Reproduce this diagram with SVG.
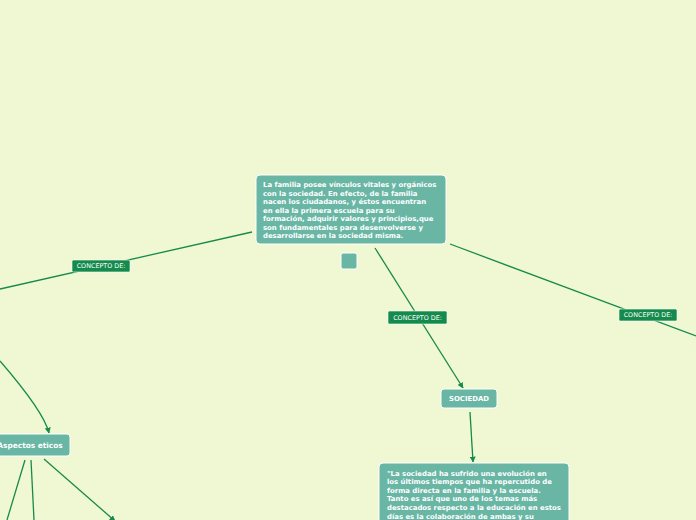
<svg xmlns="http://www.w3.org/2000/svg" width="696" height="520" viewBox="0 0 696 520">
<defs>
<style>
.node{fill:#69b6a5;stroke:#ffffff;stroke-width:1}
.t{font-family:"DejaVu Sans",Verdana,sans-serif;font-weight:bold;font-size:6.9px;fill:#ffffff}
.lbl{fill:#148a4c;stroke:#ffffff;stroke-width:0.6}
.lt{font-family:"DejaVu Sans",Verdana,sans-serif;font-size:6.4px;fill:#ffffff}
.c{fill:none;stroke:#178a4b;stroke-width:1.3}
</style>
<marker id="ah" viewBox="0 0 10 10" refX="9" refY="5" markerWidth="6" markerHeight="6" orient="auto" markerUnits="userSpaceOnUse">
<path d="M0,0 L10,5 L0,10 z" fill="#178a4b"/>
</marker>
</defs>
<rect width="696" height="520" fill="#eff8d2"/>
<g id="connectors">
<line class="c" x1="252" y1="232" x2="0" y2="289"/>
<line class="c" x1="375" y1="248" x2="463" y2="388" marker-end="url(#ah)"/>
<line class="c" x1="450" y1="244" x2="696" y2="336"/>
<path class="c" d="M0,361 Q44,412 49,433" marker-end="url(#ah)"/>
<line class="c" x1="470" y1="412" x2="473" y2="462" marker-end="url(#ah)"/>
<line class="c" x1="25" y1="460" x2="7" y2="520"/>
<line class="c" x1="31" y1="460" x2="34" y2="520"/>
<line class="c" x1="44" y1="459" x2="115" y2="521" marker-end="url(#ah)"/>
<g id="label1"><rect class="lbl" x="72" y="260" width="58" height="12" rx="1.5"/><text class="lt" x="101" y="268.3" text-anchor="middle">CONCEPTO DE:</text></g>
<g id="label2"><rect class="lbl" x="388" y="311" width="59" height="13" rx="1.5"/><text class="lt" x="417.5" y="319.8" text-anchor="middle">CONCEPTO DE:</text></g>
<g id="label3"><rect class="lbl" x="619" y="309" width="58" height="12" rx="1.5"/><text class="lt" x="648" y="317.3" text-anchor="middle">CONCEPTO DE:</text></g>
</g>
<g id="main">
<rect class="node" x="256" y="175" width="190" height="69" rx="4"/>
<text class="t">
<tspan x="263" y="187">La familia posee vínculos vitales y orgánicos</tspan>
<tspan x="263" y="195.5">con la sociedad. En efecto, de la familia</tspan>
<tspan x="263" y="204">nacen los ciudadanos, y éstos encuentran</tspan>
<tspan x="263" y="212.5">en ella la primera escuela para su</tspan>
<tspan x="263" y="221">formación, adquirir valores y principios,que</tspan>
<tspan x="263" y="229.5">son fundamentales para desenvolverse y</tspan>
<tspan x="263" y="238">desarrollarse en la sociedad misma.</tspan>
</text>
</g>
<g id="small">
<rect class="node" x="341" y="253" width="16" height="16" rx="2"/>
</g>
<g id="sociedad">
<rect class="node" x="441" y="389" width="56" height="19" rx="3"/>
<text class="t" x="469" y="401" text-anchor="middle">SOCIEDAD</text>
</g>
<g id="aspectos">
<rect class="node" x="-12" y="434" width="82" height="22" rx="3"/>
<text class="t" x="30" y="447.5" text-anchor="middle" style="font-size:7.4px">Aspectos eticos</text>
</g>
<g id="sociedadText">
<rect class="node" x="379" y="463" width="190" height="70" rx="4"/>
<text class="t">
<tspan x="387" y="475.5">"La sociedad ha sufrido una evolución en</tspan>
<tspan x="387" y="484.1">los últimos tiempos que ha repercutido de</tspan>
<tspan x="387" y="492.7">forma directa en la familia y la escuela.</tspan>
<tspan x="387" y="501.3">Tanto es así que uno de los temas más</tspan>
<tspan x="387" y="509.9">destacados respecto a la educación en estos</tspan>
<tspan x="387" y="518.5">días es la colaboración de ambas y su</tspan>
</text>
</g>
</svg>
